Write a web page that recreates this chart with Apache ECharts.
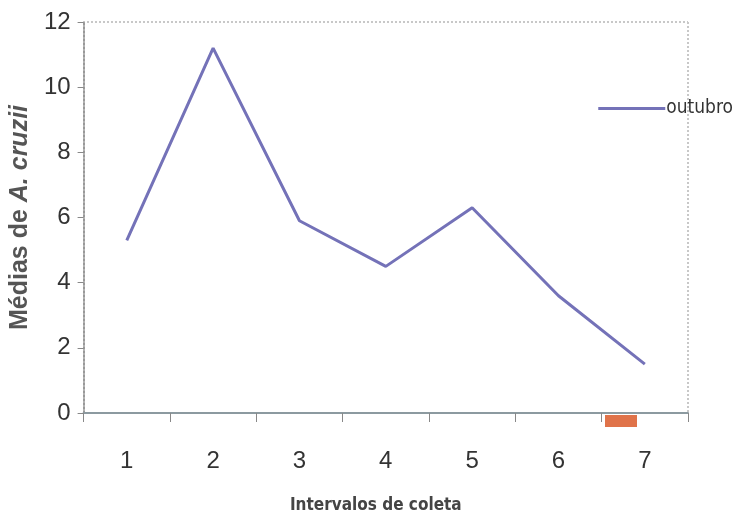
<!DOCTYPE html>
<html>
<head>
<meta charset="utf-8">
<script src="https://cdn.jsdelivr.net/npm/echarts@6/dist/echarts.min.js"></script>
<style>
  html, body { margin: 0; padding: 0; background: #fff; }
  #chart { width: 740px; height: 525px; }
</style>
</head>
<body>
<div id="chart"></div>
<script>
// Collection intervals and mean counts of A. cruzii (October)
const intervals = ['1', '2', '3', '4', '5', '6', '7'];
const outubro = [5.3, 11.2, 5.9, 4.5, 6.3, 3.6, 1.5];
const yTicks = { min: 0, max: 12, interval: 2 };

const lineColor = '#7472b8';
const labelFont = "'Liberation Sans', Arial, sans-serif";
const narrowFont = "'DejaVu Sans Condensed', 'Liberation Sans Narrow', 'Arial Narrow', 'Liberation Sans', sans-serif";

const chart = echarts.init(document.getElementById('chart'));
chart.setOption({
  animation: false,
  backgroundColor: '#ffffff',
  grid: { left: 83, top: 22, right: 52, bottom: 112, show: false },
  legend: {
    data: ['outubro'],
    right: 2,
    top: 94,
    icon: 'rect',
    itemWidth: 67,
    itemHeight: 3,
    itemGap: 2,
    textStyle: { fontFamily: narrowFont, fontSize: 19, color: '#333', padding: [0, 0, 0, -4] }
  },
  xAxis: {
    type: 'category',
    data: intervals,
    boundaryGap: true,
    name: 'Intervalos de coleta',
    nameLocation: 'middle',
    nameGap: 84,
    nameTextStyle: { fontFamily: narrowFont, fontSize: 17, color: '#444', fontWeight: 'bold', padding: [0, 20, 0, 0] },
    axisLine: { lineStyle: { color: '#8c9aa0', width: 2 } },
    axisTick: { show: true, length: 9, lineStyle: { color: '#888', width: 1 } },
    axisLabel: { fontFamily: labelFont, fontSize: 24, color: '#333', margin: 36 },
    splitLine: { show: false }
  },
  yAxis: {
    type: 'value',
    min: yTicks.min,
    max: yTicks.max,
    interval: yTicks.interval,
    name: '{n|Médias de }{i|A. cruzii}',
    nameLocation: 'middle',
    nameGap: 46,
    nameRotate: 90,
    nameTextStyle: {
      rich: {
        n: { fontFamily: labelFont, fontSize: 25, color: '#555', fontWeight: 'bold' },
        i: { fontFamily: labelFont, fontSize: 25, color: '#555', fontWeight: 'bold', fontStyle: 'italic' }
      }
    },
    axisLine: { show: true, lineStyle: { color: '#999', width: 2, type: [2, 2] } },
    axisTick: { show: true, length: 6, lineStyle: { color: '#888' } },
    axisLabel: { fontFamily: labelFont, fontSize: 24, color: '#333', margin: 13 },
    splitLine: { show: false }
  },
  graphic: [
    // dotted frame along the top and right of the plot area
    { type: 'line', shape: { x1: 83, y1: 22, x2: 688, y2: 22 }, style: { stroke: '#c8c8c8', lineWidth: 2, lineDash: [2, 2] } },
    { type: 'line', shape: { x1: 688, y1: 22, x2: 688, y2: 413 }, style: { stroke: '#c8c8c8', lineWidth: 2, lineDash: [2, 2] } },
    // small orange block under the axis
    { type: 'rect', shape: { x: 605, y: 415, width: 32, height: 12 }, style: { fill: '#e0734a' } }
  ],
  series: [{
    name: 'outubro',
    type: 'line',
    data: outubro,
    showSymbol: false,
    symbol: 'none',
    lineStyle: { color: lineColor, width: 3 },
    itemStyle: { color: lineColor }
  }]
});
</script>
</body>
</html>
